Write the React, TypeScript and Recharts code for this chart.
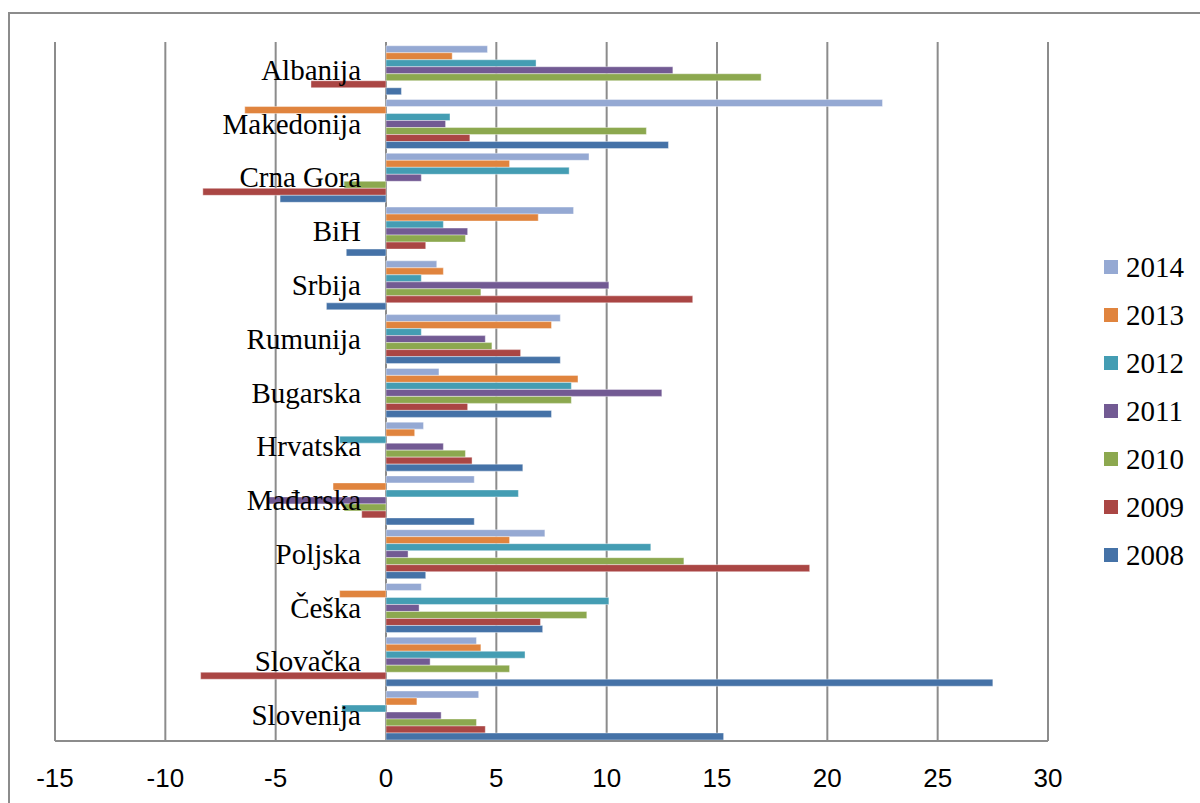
import { BarChart, Bar, XAxis, YAxis, CartesianGrid, Legend } from 'recharts';

const countries = [
  'Albanija', 'Makedonija', 'Crna Gora', 'BiH', 'Srbija', 'Rumunija', 'Bugarska',
  'Hrvatska', 'Mađarska', 'Poljska', 'Češka', 'Slovačka', 'Slovenija',
];

const v2014 = [4.6, 22.5, 9.2, 8.5, 2.3, 7.9, 2.4, 1.7, 4.0, 7.2, 1.6, 4.1, 4.2];
const v2013 = [3.0, -6.4, 5.6, 6.9, 2.6, 7.5, 8.7, 1.3, -2.4, 5.6, -2.1, 4.3, 1.4];
const v2012 = [6.8, 2.9, 8.3, 2.6, 1.6, 1.6, 8.4, -2.1, 6.0, 12.0, 10.1, 6.3, -2.0];
const v2011 = [13.0, 2.7, 1.6, 3.7, 10.1, 4.5, 12.5, 2.6, -5.4, 1.0, 1.5, 2.0, 2.5];
const v2010 = [17.0, 11.8, -1.9, 3.6, 4.3, 4.8, 8.4, 3.6, -1.9, 13.5, 9.1, 5.6, 4.1];
const v2009 = [-3.4, 3.8, -8.3, 1.8, 13.9, 6.1, 3.7, 3.9, -1.1, 19.2, 7.0, -8.4, 4.5];
const v2008 = [0.7, 12.8, -4.8, -1.8, -2.7, 7.9, 7.5, 6.2, 4.0, 1.8, 7.1, 27.5, 15.3];

const xTicks = [-15, -10, -5, 0, 5, 10, 15, 20, 25, 30];

const series = [
  { key: '2014', values: v2014, color: '#95a9d3' },
  { key: '2013', values: v2013, color: '#e0843e' },
  { key: '2012', values: v2012, color: '#449db3' },
  { key: '2011', values: v2011, color: '#725a93' },
  { key: '2010', values: v2010, color: '#8ca84f' },
  { key: '2009', values: v2009, color: '#aa4644' },
  { key: '2008', values: v2008, color: '#4572a7' },
];

const data = countries.map((name, i) => {
  const row: Record<string, string | number> = { name };
  series.forEach((s) => {
    row[s.key] = s.values[i];
  });
  return row;
});

// plot box inside the 1200x803 svg
const PLOT_LEFT = 55;
const PLOT_RIGHT = 1048;
const PLOT_TOP = 42;
const X_MIN = -15;
const X_MAX = 30;
const ZERO_X = PLOT_LEFT + ((0 - X_MIN) / (X_MAX - X_MIN)) * (PLOT_RIGHT - PLOT_LEFT);

const GRID = '#8c8c8c';
const SERIF = '"Liberation Serif", "Times New Roman", serif';

// country names sit just left of the zero line, like Excel's "next to axis" labels
const renderCountryTick = (props: any) => {
  const { y, payload } = props;
  return (
    <text
      x={ZERO_X - 25}
      y={y}
      dy={1}
      textAnchor="end"
      dominantBaseline="central"
      fontFamily={SERIF}
      fontSize={29}
      fill="#000"
    >
      {payload.value}
    </text>
  );
};

const seriesOrder = series.map((s) => s.key);

const YearLegend = (props: any) => {
  const items = [...(props.payload || [])].sort(
    (a: any, b: any) => seriesOrder.indexOf(String(a.value)) - seriesOrder.indexOf(String(b.value)),
  );
  return (
    <div>
      {items.map((it: any) => (
        <div key={it.value} style={{ height: 48, display: 'flex', alignItems: 'center' }}>
          <span
            style={{
              width: 14,
              height: 14,
              background: it.color,
              display: 'inline-block',
              marginRight: 8,
            }}
          />
          <span style={{ fontFamily: SERIF, fontSize: 29, color: '#000', lineHeight: 1 }}>
            {it.value}
          </span>
        </div>
      ))}
    </div>
  );
};

export default function App() {
  return (
    <div style={{ position: 'relative', width: 1200, height: 803, background: '#fff', overflow: 'hidden' }}>
      <style>{'body{margin:0;overflow:hidden;}'}</style>
      <div
        style={{
          position: 'absolute',
          left: 8,
          top: 12,
          width: 1220,
          height: 820,
          borderTop: `2px solid ${GRID}`,
          borderLeft: `2px solid ${GRID}`,
        }}
      />
      <div style={{ position: 'absolute', left: 0, top: 0 }}>
        <BarChart
          width={1200}
          height={803}
          data={data}
          layout="vertical"
          barCategoryGap="7%"
          barGap={0}
          margin={{ top: PLOT_TOP, right: 1200 - PLOT_RIGHT, left: PLOT_LEFT - 1, bottom: 22 }}
        >
          <CartesianGrid horizontal={false} stroke={GRID} strokeWidth={2} />
          <XAxis
            type="number"
            domain={[X_MIN, X_MAX]}
            ticks={xTicks}
            interval={0}
            height={40}
            axisLine={{ stroke: GRID, strokeWidth: 2 }}
            tickLine={false}
            tickSize={0}
            tickMargin={28}
            tick={{ fill: '#000', fontSize: 26, fontFamily: '"Liberation Sans Narrow", "Liberation Sans", sans-serif' }}
          />
          {series.map((s) => (
            <Bar
              key={s.key}
              dataKey={s.key}
              name={s.key}
              fill={s.color}
              stroke="#ffffff"
              strokeOpacity={0.5}
              strokeWidth={0.8}
              isAnimationActive={false}
            />
          ))}
          {/* names are painted over the bars */}
          <YAxis
            type="category"
            dataKey="name"
            width={1}
            axisLine={false}
            tickLine={false}
            interval={0}
            tick={renderCountryTick}
            {...({ zIndex: 1000 } as any)}
          />
          <Legend
            layout="vertical"
            align="center"
            verticalAlign="middle"
            content={<YearLegend />}
            wrapperStyle={{ left: 1104, top: 243, width: 96 }}
          />
        </BarChart>
      </div>
    </div>
  );
}
